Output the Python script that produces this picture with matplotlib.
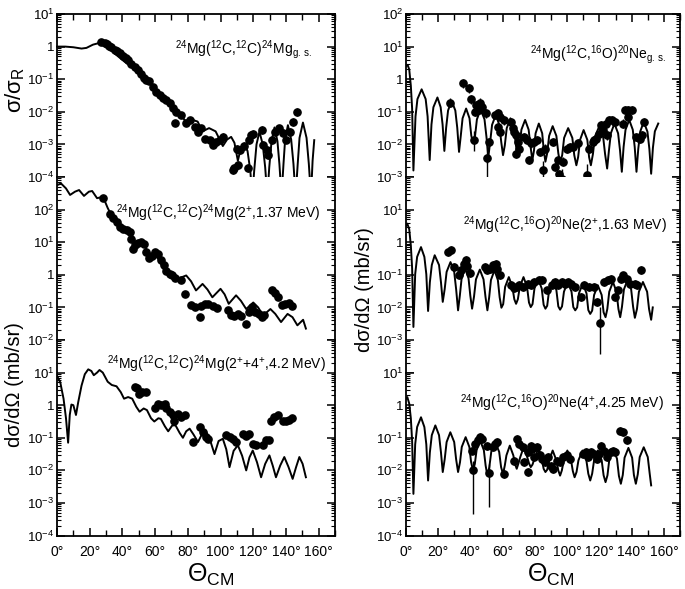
import numpy as np
import matplotlib
matplotlib.use("Agg")
import matplotlib.pyplot as plt
from matplotlib.ticker import FixedLocator, FuncFormatter, NullFormatter

plt.rcParams['font.family'] = ['Liberation Sans', 'DejaVu Sans']
plt.rcParams['mathtext.fontset'] = 'custom'
plt.rcParams['mathtext.rm'] = 'Liberation Sans'
plt.rcParams['mathtext.it'] = 'Liberation Sans:italic'
plt.rcParams['mathtext.bf'] = 'Liberation Sans:bold'
plt.rcParams['mathtext.sf'] = 'Liberation Sans'

# ---------------- data: angle (deg), log10 of value ----------------
xtick_values = [0, 20, 40, 60, 80, 100, 120, 140, 160]
xtick_labels = ['0°', '20°', '40°', '60°', '80°', '100°', '120°', '140°', '160°']

label_A = r'$^{24}$Mg($^{12}$C,$^{12}$C)$^{24}$Mg$_{\rm g.\,s.}$'
label_B = r'$^{24}$Mg($^{12}$C,$^{12}$C)$^{24}$Mg(2$^{+}$,1.37 MeV)'
label_C = r'$^{24}$Mg($^{12}$C,$^{12}$C)$^{24}$Mg(2$^{+}$+4$^{+}$,4.2 MeV)'
label_D = r'$^{24}$Mg($^{12}$C,$^{16}$O)$^{20}$Ne$_{\rm g.\,s.}$'
label_E = r'$^{24}$Mg($^{12}$C,$^{16}$O)$^{20}$Ne(2$^{+}$,1.63 MeV)'
label_F = r'$^{24}$Mg($^{12}$C,$^{16}$O)$^{20}$Ne(4$^{+}$,4.25 MeV)'

A_curve = [(0, 0.0), (5, 0.0), (10, -0.02), (15, -0.06), (18, -0.04), (22, 0.06), (25, 0.1), (28, 0.06),
           (32, -0.08), (36.4, -0.26), (41, -0.45), (46.5, -0.66), (51, -0.88), (56.7, -1.12), (62, -1.38),
           (67, -1.64), (71, -1.85), (75, -2.05), (78, -2.25), (80.5, -2.35), (83, -2.25), (86, -2.3),
           (89, -2.6), (93, -2.5), (97, -2.6), (101.4, -3.05), (104, -2.85), (106.5, -2.77), (108.5, -2.95),
           (110.6, -3.5), (112.5, -3.1), (114.6, -3.0), (116.5, -3.2), (118.2, -3.8), (119.4, -4.6),
           (120.6, -3.8), (122, -3.0), (123.8, -2.61), (125.8, -3.0), (127.3, -3.7), (128.6, -4.6),
           (129.8, -3.7), (131.2, -2.9), (133, -2.48), (134.8, -2.9), (136, -3.6), (137.3, -4.6),
           (138.5, -3.6), (139.5, -2.85), (141.2, -2.41), (143.2, -2.85), (144.6, -3.6), (145.9, -4.6),
           (147.2, -3.6), (148.3, -2.8), (150.4, -2.33), (152.6, -2.8), (154, -3.6), (155.3, -4.6),
           (156.3, -3.5), (157.3, -2.87)]
A_points = [(27.2, 0.13), (29.3, 0.10), (30.7, 0.07), (32.0, 0.03), (33.3, 0.0), (35.4, -0.09), (36.4, -0.13),
            (38.4, -0.21), (40.4, -0.29), (42.1, -0.36), (43.5, -0.41), (45.5, -0.52), (47.6, -0.62),
            (49.6, -0.72), (51.6, -0.84), (53.0, -0.95), (54.7, -1.03), (56.1, -1.06), (58.7, -1.25),
            (60.8, -1.39), (62.8, -1.49), (64.8, -1.59), (66.9, -1.64), (68.9, -1.72), (70.9, -1.87),
            (73.0, -2.0), (76.0, -2.1), (72.4, -2.34), (79.1, -2.34), (81.5, -2.26), (84.1, -2.46),
            (86.2, -2.61), (88.2, -2.51), (90.2, -2.82), (93.3, -2.87), (95.3, -3.03), (97.4, -2.92),
            (99.4, -2.85), (101.4, -2.77), (107.5, -3.79), (108.5, -3.71), (110.6, -3.64), (117.0, -3.73),
            (110.0, -3.13), (112.0, -3.16), (114.6, -3.05), (117.3, -2.87), (118.7, -2.72), (120.1, -2.67),
            (125.4, -2.56), (126.2, -3.02), (128.3, -3.18), (128.9, -3.33), (131.5, -2.87), (133.5, -2.61),
            (135.6, -2.51), (138.0, -2.66), (140.0, -2.85), (142.5, -2.61), (144.5, -2.31), (146.5, -2.0)]

B_curve = [(0, 2.75), (2.5, 2.8), (5.5, 2.65), (8, 2.45), (11, 2.55), (13.5, 2.6), (16.5, 2.42), (19.5, 2.55),
           (21.5, 2.57), (24.5, 2.35), (27, 2.38), (28.5, 2.35), (31, 2.05), (33, 1.85), (35.5, 1.8),
           (38, 1.62), (40.5, 1.42), (43, 1.45), (45.5, 1.25), (48, 1.0), (50.5, 1.05), (53, 0.95),
           (55.5, 0.7), (58, 0.62), (60.5, 0.6), (63, 0.4), (65.5, 0.15), (68, 0.1), (70.5, 0.05),
           (73, -0.17), (76, -0.08), (79, -0.02), (82, -0.2), (85, -0.48), (89, -0.28), (92, -0.45),
           (95, -0.69), (100, -0.43), (102.5, -0.6), (105, -0.89), (109.5, -0.63), (112.5, -0.8),
           (115.7, -1.05), (120, -0.85), (123, -1.0), (126, -1.25), (130.5, -1.05), (133.5, -1.2),
           (137, -1.45), (141, -1.2), (144, -1.3), (147, -1.55), (150.5, -1.38), (152.2, -1.65)]
B_points = [(28.3, 2.37), (32.3, 1.88), (34.3, 1.75), (36.4, 1.62), (38.4, 1.47), (40.4, 1.42), (42.5, 1.37),
            (44.5, 1.32), (45.5, 1.11), (46.5, 0.80), (47.6, 0.91), (49.6, 0.98), (51.6, 1.01), (53.0, 0.96),
            (54.7, 0.70), (56.3, 0.53), (58.3, 0.57), (59.8, 0.70), (61.8, 0.65), (63.8, 0.45), (65.2, 0.29),
            (66.9, 0.12), (68.9, 0.02), (70.5, -0.02), (72.0, -0.09), (76.0, -0.17), (78.0, -0.58),
            (82.1, -0.94), (84.1, -0.99), (87.2, -1.28), (88.2, -0.97), (90.2, -0.91), (92.3, -0.89),
            (95.3, -0.97), (97.8, -1.01), (104.5, -1.09), (106.5, -1.22), (108.5, -1.25), (110.6, -1.19),
            (112.6, -1.25), (115.7, -1.52), (117.3, -1.14), (119.3, -0.99), (121.3, -1.14), (123.4, -1.19),
            (125.4, -1.30), (126.8, -1.22), (131.5, -0.46), (133.1, -0.57), (135.0, -0.69), (137.6, -0.94),
            (139.6, -0.89), (141.7, -0.87), (143.7, -0.97)]

C_curve = [(0, 0.9), (2, 0.7), (4, 0.2), (5.5, -0.4), (6.8, -1.15), (7.8, -0.3), (8.8, 0.02), (10, 0.0),
           (11.6, -0.3), (13, 0.1), (15, 0.6), (17, 0.95), (19.1, 1.1), (21, 1.05), (22.5, 0.92),
           (24.5, 1.0), (26, 1.08), (28, 1.0), (31, 0.72), (33.5, 0.62), (36.4, 0.58), (39, 0.4),
           (41, 0.2), (43.5, 0.25), (46, 0.2), (48.5, -0.05), (50.5, -0.2), (53, -0.1), (55, -0.15),
           (57.5, -0.4), (59.5, -0.5), (62, -0.4), (63.5, -0.42), (66, -0.65), (68, -0.8), (70.5, -0.62),
           (72.5, -0.62), (75, -0.85), (77, -1.0), (79, -0.8), (81.1, -0.72), (83.5, -0.9), (86.2, -1.13),
           (88.5, -0.9), (91.3, -0.83), (93.8, -1.1), (96.3, -1.5), (98.8, -1.1), (101.4, -1.03),
           (103.5, -1.35), (105.5, -1.9), (108, -1.4), (110.6, -1.23), (113.2, -1.55), (115.7, -2.0),
           (117.7, -1.6), (119.7, -1.39), (122.3, -1.75), (124.8, -2.21), (127.3, -1.8), (129.9, -1.54),
           (131.9, -1.85), (133.9, -2.21), (136.5, -1.85), (139, -1.59), (141.6, -1.9), (144.1, -2.26),
           (146.2, -1.9), (148.2, -1.59), (150.2, -1.8), (152.2, -2.21)]
C_points = [(47.6, 0.55), (49.0, 0.53), (50.2, 0.33), (52.2, 0.40), (54.7, 0.40), (59.8, -0.08), (61.8, 0.05),
            (63.8, 0.0), (65.9, 0.05), (66.9, -0.1), (68.9, -0.2), (70.9, -0.3), (71.3, -0.47), (74.0, -0.26),
            (76.0, -0.36), (78.0, -0.31), (83.1, -1.13), (87.2, -0.67), (89.2, -0.83), (91.3, -0.98),
            (92.3, -1.03), (103.5, -0.92), (105.5, -0.98), (107.5, -1.03), (109.5, -1.13), (113.6, -0.88),
            (115.7, -0.93), (117.7, -0.88), (119.7, -1.18), (121.7, -1.23), (125.8, -1.23), (127.8, -1.08),
            (129.9, -1.08), (130.9, -0.47), (132.9, -0.36), (135.0, -0.31), (138.0, -0.47), (140.0, -0.47),
            (142.0, -0.45), (143.7, -0.40)]

D_curve = [(0, 0.40), (1.0, 0.44), (2.0, 0.3), (3.0, -0.2), (3.8, -0.9), (4.6, -2.8),
           (5.9, -1.14), (7.1, -0.61), (9.7, -0.31), (12.2, -0.61), (13.4, -1.14), (14.7, -2.48),
           (15.8, -1.39), (17.0, -0.86), (19.5, -0.56), (21.5, -0.86), (22.7, -1.39), (23.8, -2.2),
           (24.9, -1.49), (26.1, -0.96), (28.3, -0.66), (30.6, -0.96), (31.8, -1.49), (32.9, -2.23),
           (34.0, -1.73), (35.1, -1.2), (37.3, -0.9), (39.4, -1.2), (40.5, -1.73), (41.6, -1.97),
           (42.8, -1.76), (44.0, -1.23), (46.3, -0.93), (48.7, -1.23), (49.9, -1.76), (51.1, -2.38),
           (52.2, -1.93), (53.4, -1.4), (55.7, -1.1), (57.9, -1.4), (59.1, -1.93), (60.2, -2.33),
           (61.3, -2.03), (62.5, -1.5), (64.8, -1.2), (67.0, -1.5), (68.2, -2.03), (69.3, -2.38),
           (70.4, -2.08), (71.6, -1.55), (73.9, -1.25), (76.1, -1.55), (77.3, -2.08), (78.4, -2.48),
           (79.4, -2.19), (80.4, -1.66), (82.4, -1.36), (84.5, -1.66), (85.5, -2.19), (86.5, -2.53),
           (87.6, -2.27), (88.8, -1.74), (91.0, -1.44), (93.3, -1.74), (94.5, -2.27), (95.6, -2.58),
           (96.9, -2.33), (98.1, -1.8), (100.6, -1.5), (103.2, -1.8), (104.4, -2.33), (105.7, -2.64),
           (106.8, -2.39), (108.0, -1.86), (110.2, -1.56), (112.5, -1.86), (113.6, -2.39), (114.7, -2.64),
           (116.0, -2.29), (117.2, -1.76), (119.8, -1.46), (122.3, -1.76), (123.5, -2.29), (124.8, -2.74),
           (125.9, -2.19), (127.1, -1.66), (129.3, -1.36), (131.6, -1.66), (132.8, -2.19), (133.9, -2.84),
           (135.0, -2.08), (136.2, -1.55), (138.5, -1.25), (140.7, -1.55), (141.9, -2.08), (143.0, -2.84),
           (144.1, -2.14), (145.3, -1.61), (147.5, -1.31), (149.8, -1.61), (151.0, -2.14), (152.1, -2.9),
           (153.2, -2.1), (154.4, -1.6), (156.5, -1.36)]
D_points = [(35.6, -0.13), (39.0, -0.28), (40.4, -0.62), (27.5, -0.72), (43.6, -0.80), (45.7, -0.72),
            (47.1, -0.85), (43.0, -1.0), (42.0, -1.85), (45.0, -0.95), (49.7, -1.05), (51.7, -1.92),
            (50.1, -2.43), (55.2, -1.1), (56.8, -1.05), (58.2, -1.16), (57.2, -1.46), (58.2, -1.61),
            (60.6, -1.26), (65.3, -1.31), (66.3, -1.51), (67.3, -1.61), (68.3, -1.72), (69.3, -1.92),
            (68.3, -2.28), (69.9, -2.13), (73.3, -1.77), (74.9, -1.87), (77.4, -1.97), (76.4, -2.48),
            (79.4, -1.92), (81.4, -1.87), (83.4, -2.23), (84.8, -2.79), (86.5, -2.13), (90.9, -1.92),
            (92.5, -2.69), (94.1, -2.48), (95.2, -2.9), (96.6, -3.05), (97.6, -2.53), (99.6, -2.13),
            (101.6, -2.09), (103.6, -2.07), (106.7, -1.97), (112.3, -2.95), (113.7, -2.13), (115.8, -1.92),
            (116.8, -1.87), (117.8, -1.82), (119.8, -1.67), (121.2, -1.41), (122.4, -1.56), (123.8, -1.36),
            (124.8, -1.72), (125.9, -1.26), (127.9, -1.26), (129.9, -1.31), (134.9, -1.36), (136.0, -0.95),
            (138.0, -0.95), (140.0, -0.95), (138.0, -1.16), (143.0, -1.77), (145.0, -1.82), (147.5, -1.31),
            (146.7, -1.72)]
D_long_bars = [(50.1, -3.0, -2.0), (84.8, -3.1, -2.5), (96.6, -3.5, -2.75), (112.3, -3.45, -2.6),
               (42.0, -2.2, -1.6)]

E_curve = [(0, 0.5), (0.8, 0.57), (2.0, 0.4), (3.0, -0.1), (3.8, -0.8), (4.6, -2.6),
           (5.7, -0.98), (6.9, -0.45), (9.3, -0.15), (11.4, -0.45), (12.6, -0.98), (13.7, -2.11),
           (14.8, -1.23), (16.0, -0.7), (17.8, -0.4), (20.5, -0.7), (21.7, -1.23), (22.8, -1.83),
           (24.0, -1.44), (25.2, -0.91), (27.6, -0.61), (29.9, -0.91), (31.1, -1.44), (32.3, -2.09),
           (33.4, -1.64), (34.5, -1.11), (36.7, -0.81), (38.8, -1.11), (39.9, -1.64), (41.0, -2.04),
           (42.2, -1.67), (43.4, -1.14), (45.8, -0.84), (48.1, -1.14), (49.3, -1.67), (50.5, -2.09),
           (51.6, -1.69), (52.7, -1.16), (54.9, -0.86), (57.0, -1.16), (58.1, -1.69), (59.2, -2.01),
           (60.3, -1.9), (61.5, -1.37), (63.8, -1.07), (66.0, -1.37), (67.2, -1.75), (68.3, -1.89),
           (69.4, -1.75), (70.6, -1.37), (72.9, -1.07), (75.1, -1.37), (76.3, -1.85), (77.4, -1.99),
           (78.5, -1.9), (79.7, -1.42), (82.0, -1.12), (84.2, -1.42), (85.4, -1.92), (86.5, -2.04),
           (87.6, -1.95), (88.8, -1.47), (91.1, -1.17), (93.3, -1.47), (94.5, -1.97), (95.6, -2.07),
           (96.8, -1.97), (98.0, -1.52), (100.3, -1.22), (102.7, -1.52), (103.8, -1.99), (105.0, -2.09),
           (106.2, -2.0), (107.3, -1.57), (109.7, -1.27), (112.0, -1.57), (113.1, -2.08), (114.3, -2.2),
           (115.5, -2.1), (116.7, -1.62), (119.0, -1.32), (121.4, -1.62), (122.6, -2.15), (123.8, -2.3),
           (124.9, -2.05), (126.1, -1.52), (128.4, -1.22), (130.6, -1.52), (131.8, -2.05), (132.9, -2.3),
           (134.0, -1.98), (135.2, -1.45), (137.5, -1.15), (139.7, -1.45), (140.9, -1.98), (142.0, -2.32),
           (143.3, -2.05), (144.5, -1.52), (147.0, -1.22), (149.6, -1.52), (150.8, -2.05), (152.1, -2.38),
           (153.1, -2.0)]
E_points = [(25.9, -0.30), (27.9, -0.25), (29.9, -0.76), (32.9, -1.02), (34.3, -0.84), (36.0, -0.66),
            (37.0, -0.54), (37.6, -0.74), (39.6, -0.94), (49.1, -0.76), (50.5, -0.86), (52.1, -0.81),
            (54.1, -0.71), (55.8, -0.66), (56.6, -0.81), (58.2, -1.02), (65.3, -1.32), (66.7, -1.42),
            (68.3, -1.37), (70.3, -1.32), (72.7, -1.37), (75.4, -1.27), (77.4, -1.32), (79.4, -1.22),
            (82.4, -1.17), (84.4, -1.15), (87.5, -1.48), (90.5, -1.32), (92.5, -1.22), (94.5, -1.32),
            (96.6, -1.22), (98.6, -1.27), (100.6, -1.22), (102.6, -1.27), (104.6, -1.37), (108.3, -1.68),
            (110.7, -1.32), (113.7, -1.37), (116.8, -1.37), (118.8, -1.83), (120.2, -2.49), (122.8, -1.22),
            (125.3, -1.17), (127.3, -1.12), (129.9, -1.68), (131.3, -1.48), (133.3, -1.12), (134.9, -1.02),
            (137.0, -1.12), (139.0, -1.27), (142.0, -1.27), (143.4, -1.32), (146.1, -0.86)]
E_long_bars = [(120.2, -3.42, -2.0)]

F_curve = [(0, 0.2), (0.8, 0.25), (2.0, 0.05), (3.0, -0.4), (3.8, -1.1), (4.6, -2.72),
           (5.7, -1.2), (6.9, -0.67), (9.3, -0.37), (11.4, -0.67), (12.6, -1.2), (13.7, -2.31),
           (14.8, -1.45), (16.0, -0.92), (18.2, -0.62), (20.5, -0.92), (21.7, -1.45), (22.8, -2.05),
           (24.0, -1.66), (25.2, -1.13), (27.5, -0.83), (29.9, -1.13), (31.1, -1.66), (32.3, -2.05),
           (33.5, -1.75), (34.6, -1.28), (37.0, -0.98), (39.3, -1.28), (40.4, -1.75), (41.6, -2.0),
           (42.7, -1.8), (43.8, -1.38), (46.0, -1.08), (48.3, -1.38), (49.4, -1.85), (50.5, -2.16),
           (51.7, -1.9), (52.9, -1.43), (55.3, -1.13), (57.8, -1.43), (59.0, -1.9), (60.2, -2.11),
           (61.3, -1.85), (62.3, -1.54), (64.4, -1.24), (66.6, -1.54), (67.6, -1.8), (68.7, -1.95),
           (69.8, -1.78), (70.9, -1.59), (73.0, -1.29), (75.2, -1.59), (76.3, -1.78), (77.4, -1.90),
           (78.5, -1.82), (79.7, -1.64), (82.0, -1.34), (84.2, -1.64), (85.4, -1.95), (86.5, -2.05),
           (87.6, -1.98), (88.8, -1.69), (91.0, -1.39), (93.3, -1.69), (94.5, -2.0), (95.6, -2.16),
           (96.7, -2.0), (97.9, -1.69), (100.1, -1.39), (102.4, -1.69), (103.5, -2.02), (104.6, -2.21),
           (105.8, -2.05), (107.0, -1.69), (109.5, -1.39), (111.9, -1.69), (113.1, -2.1), (114.3, -2.31),
           (115.5, -2.1), (116.7, -1.69), (119.0, -1.39), (121.4, -1.69), (122.6, -2.15), (123.8, -2.36),
           (125.0, -2.15), (126.2, -1.64), (128.5, -1.34), (130.9, -1.64), (132.1, -2.17), (133.3, -2.41),
           (134.5, -2.14), (135.6, -1.61), (138.0, -1.31), (140.3, -1.61), (141.4, -2.14), (142.6, -2.41),
           (143.8, -2.12), (145.0, -1.59), (147.5, -1.29), (150.0, -1.59), (151.2, -2.1), (152.1, -2.46)]
F_points = [(41.0, -1.39), (41.6, -1.98), (43.0, -1.18), (44.4, -1.08), (46.1, -0.98), (47.1, -1.03),
            (50.1, -1.24), (51.7, -2.09), (53.7, -1.29), (55.2, -1.18), (56.6, -1.13), (60.6, -2.11),
            (66.7, -1.70), (68.7, -1.03), (70.3, -1.18), (72.3, -1.29), (73.3, -1.75), (75.4, -1.44),
            (75.4, -2.05), (77.4, -1.24), (78.4, -1.34), (79.4, -1.60), (81.4, -1.29), (83.4, -1.54),
            (84.4, -1.65), (86.5, -1.75), (88.1, -1.60), (90.1, -1.85), (91.5, -1.95), (93.5, -1.70),
            (95.6, -1.75), (97.6, -1.60), (99.6, -1.54), (101.6, -1.65), (109.7, -1.49), (111.7, -1.44),
            (113.1, -1.60), (114.7, -1.44), (116.8, -1.49), (118.4, -1.65), (119.8, -1.49), (121.2, -1.24),
            (122.8, -1.39), (124.4, -1.60), (126.9, -1.44), (128.5, -1.39), (129.9, -1.44), (132.9, -0.78),
            (134.9, -0.83), (137.0, -1.08)]
F_long_bars = [(41.6, -3.33, -1.7), (51.7, -3.13, -1.8)]

# y-ranges (log10) of each panel and the decade labels printed on each
A_range, A_labels = (-4, 1), [1, 0, -1, -2, -3, -4]
B_range, B_labels = (-2, 3), [2, 1, 0, -1, -2]
C_range, C_labels = (-4, 2), [1, 0, -1, -2, -3, -4]
D_range, D_labels = (-3, 2), [2, 1, 0, -1, -2, -3]
E_range, E_labels = (-4, 2), [1, 0, -1, -2, -3]
F_range, F_labels = (-4, 1), [1, 0, -1, -2, -3, -4]

# ---------------- figure ----------------
W, H = 685, 589
fig = plt.figure(figsize=(W / 100, H / 100), dpi=100)

def frac_rect(x0, x1, ytop, ybot):
    return [x0 / W, 1 - ybot / H, (x1 - x0) / W, (ybot - ytop) / H]

dec = 32.6
y0 = 14
LX = (57, 335)
RX = (406, 680)
TICK_FS = 9.5

def fmt_factory(labels):
    def f(v, pos):
        e = int(round(np.log10(v)))
        if e not in labels:
            return ''
        return '1' if e == 0 else r'$10^{%d}$' % e
    return FuncFormatter(f)

def setup(rect, yrange, labels, xlim, top, bottom):
    ax = fig.add_axes(rect)
    ax.set_yscale('log')
    ax.set_ylim(10.0 ** yrange[0], 10.0 ** yrange[1])
    ax.set_xlim(*xlim)
    for s in ax.spines.values():
        s.set_linewidth(1.3)
    ax.spines['top'].set_visible(top)
    ax.spines['bottom'].set_visible(bottom)
    decs = [10.0 ** e for e in range(yrange[0], yrange[1] + 1)]
    ax.yaxis.set_major_locator(FixedLocator(decs))
    minors = [m * 10.0 ** e for e in range(yrange[0], yrange[1]) for m in range(2, 10)]
    ax.yaxis.set_minor_locator(FixedLocator(minors))
    ax.yaxis.set_major_formatter(fmt_factory(labels))
    ax.yaxis.set_minor_formatter(NullFormatter())
    ax.tick_params(axis='y', which='major', direction='in', length=6, width=1.1,
                   left=True, right=True, labelsize=TICK_FS, pad=2)
    ax.tick_params(axis='y', which='minor', direction='in', length=3, width=0.8,
                   left=True, right=True)
    ax.set_xticks(xtick_values)
    ax.set_xticks(list(range(10, 171, 20)), minor=True)
    if bottom:
        ax.set_xticklabels(xtick_labels)
    else:
        ax.set_xticklabels([])
    ax.tick_params(axis='x', which='major', direction='in', length=6, width=1.1,
                   top=top, bottom=bottom, labelsize=TICK_FS + 0.5, pad=7)
    ax.tick_params(axis='x', which='minor', direction='in', length=4, width=1.0,
                   top=top, bottom=bottom)
    return ax

def draw(ax, curve, points, bars=None, long_bars=(), clip=True, err_min_theta=None):
    ct = [c[0] for c in curve]
    cv = [10.0 ** c[1] for c in curve]
    ax.plot(ct, cv, color='black', lw=1.4, clip_on=clip, solid_joinstyle='round')
    pt = np.array([p[0] for p in points])
    pe = np.array([p[1] for p in points])
    if bars is not None:
        sel = pt >= (err_min_theta if err_min_theta is not None else -1)
        ax.vlines(pt[sel], 10.0 ** (pe[sel] - bars), 10.0 ** (pe[sel] + bars), color='black', lw=1.0)
    for t, lo, hi in long_bars:
        ax.vlines(t, 10.0 ** lo, 10.0 ** hi, color='black', lw=1.0)
    ax.plot(pt, 10.0 ** pe, 'o', color='black', ms=5.2, mec='black', zorder=3)

# left column
axA = setup(frac_rect(LX[0], LX[1], y0, y0 + 5 * dec), A_range, A_labels, (0, 170), True, False)
axB = setup(frac_rect(LX[0], LX[1], y0 + 5 * dec, y0 + 10 * dec), B_range, B_labels, (0, 170), False, False)
axC = setup(frac_rect(LX[0], LX[1], y0 + 10 * dec, y0 + 16 * dec), C_range, C_labels, (0, 170), False, True)
# right column
axD = setup(frac_rect(RX[0], RX[1], y0, y0 + 5 * dec), D_range, D_labels, (2, 168.5), True, False)
axE = setup(frac_rect(RX[0], RX[1], y0 + 5 * dec, y0 + 11 * dec), E_range, E_labels, (2, 168.5), False, False)
axF = setup(frac_rect(RX[0], RX[1], y0 + 11 * dec, y0 + 16 * dec), F_range, F_labels, (2, 168.5), False, True)

draw(axA, A_curve, A_points, bars=0.12, clip=False, err_min_theta=100)
draw(axB, B_curve, B_points)
draw(axC, C_curve, C_points)
draw(axD, D_curve, D_points, bars=0.13, long_bars=D_long_bars)
draw(axE, E_curve, E_points, bars=0.12, long_bars=E_long_bars)
draw(axF, F_curve, F_points, bars=0.12, long_bars=F_long_bars)

# reaction labels (pixel positions)
def ptext(x, y, s, size=10):
    fig.text(x / W, 1 - y / H, s, fontsize=size, ha='left', va='center')

ptext(175, 50, label_A)
ptext(116, 213, label_B)
ptext(107, 364, label_C)
ptext(530, 55, label_D)
ptext(463, 225, label_E)
ptext(460, 403, label_F)

# axis titles
fig.text(15 / W, 1 - 90 / H, r'$\mathrm{σ/σ_R}$', fontsize=16, rotation=90, ha='center', va='center')
fig.text(15 / W, 1 - 385 / H, 'dσ/dΩ (mb/sr)', fontsize=14.5, rotation=90, ha='center', va='center')
fig.text(364 / W, 1 - 290 / H, 'dσ/dΩ (mb/sr)', fontsize=14.5, rotation=90, ha='center', va='center')
fig.text(211 / W, 1 - 575 / H, r'$\mathrm{Θ_{CM}}$', fontsize=18, ha='center', va='center')
fig.text(551 / W, 1 - 575 / H, r'$\mathrm{Θ_{CM}}$', fontsize=18, ha='center', va='center')

fig.savefig('out.png', dpi=100)
